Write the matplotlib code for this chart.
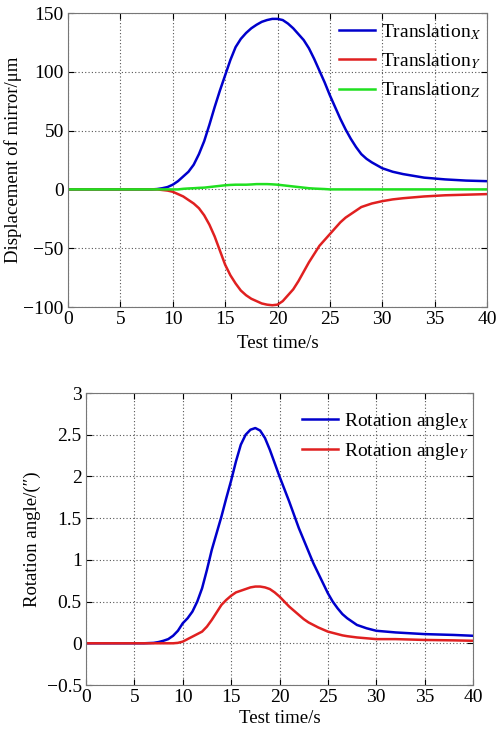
# Mirror displacement and rotation vs test time

import matplotlib
matplotlib.use("Agg")
import matplotlib.pyplot as plt

plt.rcParams["font.family"] = ["Liberation Serif", "DejaVu Serif"]
plt.rcParams["mathtext.fontset"] = "stix"
plt.rcParams["font.size"] = 13.5

# translation data (um)
t_trans = [0, 2, 4, 6, 8, 8.5, 9, 9.5, 10, 10.5, 11, 11.5, 12, 12.5, 13, 13.5, 14, 14.5,
           15, 15.5, 16, 16.5, 17, 17.5, 18, 18.5, 19, 19.5, 20, 20.5, 21, 21.5, 22, 22.5,
           23, 23.5, 24, 24.5, 25, 25.5, 26, 26.5, 27, 27.5, 28, 28.5, 29, 30, 31, 32,
           34, 36, 38, 40]
trans_x = [0, 0, 0, 0, 0, 0.3, 1, 2, 4, 7, 11, 15, 21, 30, 41, 55, 70, 84,
           97, 110, 121, 128, 133, 137, 140, 142.5, 144, 145, 145, 144, 141, 137, 132, 127,
           120, 111, 101, 91, 80, 70, 60, 51, 43, 36, 30, 26, 23, 18, 15, 13,
           10, 8.5, 7.5, 7]
trans_y = [0, 0, 0, 0, 0, 0, -0.5, -1, -2, -4, -6, -9, -12, -16, -22, -30, -40, -52,
           -64, -73, -80, -86, -90, -93, -95, -97, -98, -98.5, -98, -95, -90, -85, -78, -70,
           -62, -55, -48, -43, -38, -33, -28, -24, -21, -18, -15, -13.5, -12, -10, -8.5, -7.5,
           -6, -5, -4.5, -4]
trans_z = [0, 0, 0, 0, 0, 0, 0, 0, 0, 0, 0.5, 0.8, 1, 1.3, 1.5, 2, 2.5, 3,
           3.5, 3.8, 4, 4, 4, 4.2, 4.5, 4.5, 4.5, 4.3, 4, 3.5, 3, 2.5, 2, 1.5,
           1, 0.7, 0.5, 0.3, 0, 0, 0, 0, 0, 0, 0, 0, 0, 0, 0, 0,
           0, 0, 0, 0]

# rotation data
t_rot = [0, 2, 4, 6, 7, 7.5, 8, 8.5, 9, 9.5, 10, 10.5, 11, 11.5, 12, 12.5, 13, 13.5, 14, 14.5,
         15, 15.5, 16, 16.5, 17, 17.5, 18, 18.5, 19, 19.5, 20, 20.5, 21, 21.5, 22, 22.5,
         23, 23.5, 24, 24.5, 25, 25.5, 26, 26.5, 27, 28, 29, 30, 32, 35, 38, 40]
rot_x = [0, 0, 0, 0, 0.005, 0.015, 0.03, 0.05, 0.09, 0.15, 0.24, 0.3, 0.38, 0.5, 0.66, 0.88, 1.12, 1.32, 1.52, 1.74,
         1.95, 2.18, 2.38, 2.5, 2.56, 2.58, 2.55, 2.46, 2.32, 2.16, 2.0, 1.85, 1.7, 1.54, 1.38, 1.24,
         1.1, 0.96, 0.84, 0.72, 0.6, 0.5, 0.42, 0.35, 0.3, 0.22, 0.18, 0.15, 0.13, 0.11, 0.1, 0.09]
rot_y = [0, 0, 0, 0, 0, 0, 0, 0, 0, 0.005, 0.02, 0.05, 0.08, 0.11, 0.14, 0.2, 0.28, 0.37, 0.46, 0.52,
         0.57, 0.61, 0.63, 0.65, 0.67, 0.68, 0.68, 0.67, 0.65, 0.61, 0.56, 0.5, 0.44, 0.39, 0.34, 0.29,
         0.25, 0.22, 0.19, 0.165, 0.14, 0.125, 0.11, 0.095, 0.085, 0.07, 0.06, 0.05, 0.05, 0.04, 0.035, 0.03]

fig = plt.figure(figsize=(4.98, 7.31), dpi=100)

ax1 = fig.add_axes([68/498, 1-307/731, (487-68)/498, (307-13)/731])
ax1.plot(t_trans, trans_x, color="#0000cc", lw=1.8, label="Translation$_{X}$")
ax1.plot(t_trans, trans_y, color="#e02020", lw=1.8, label="Translation$_{Y}$")
ax1.plot(t_trans, trans_z, color="#20e020", lw=1.8, label="Translation$_{Z}$")
ax1.set_xlim(0, 40)
ax1.set_ylim(-100, 150)
ax1.set_xticks(range(0, 41, 5))
ax1.set_yticks([-100, -50, 0, 50, 100, 150])
ax1.set_yticklabels(["\u2212100", "\u221250", "0", "50", "100", "150"])
ax1.set_xlabel("Test time/s", labelpad=5)
ax1.set_ylabel("Displacement of mirror/\u03bcm", labelpad=1)
ax1.legend(loc="upper right", bbox_to_anchor=(0.985, 0.97), frameon=False,
           handlelength=1.85, handletextpad=0.3, borderaxespad=0, borderpad=0,
           labelspacing=0.5, fontsize=14)

ax2 = fig.add_axes([86/498, 1-685/731, (473-86)/498, (685-393)/731])
ax2.plot(t_rot, rot_x, color="#0000cc", lw=1.8, label="Rotation angle$_{X}$")
ax2.plot(t_rot, rot_y, color="#e02020", lw=1.8, label="Rotation angle$_{Y}$")
ax2.set_xlim(0, 40)
ax2.set_ylim(-0.5, 3)
ax2.set_xticks(range(0, 41, 5))
ax2.set_yticks([-0.5, 0, 0.5, 1, 1.5, 2, 2.5, 3])
ax2.set_yticklabels(["\u22120.5", "0", "0.5", "1", "1.5", "2", "2.5", "3"])
ax2.set_xlabel("Test time/s", labelpad=3)
ax2.set_ylabel("Rotation angle/(\u2033)", labelpad=4)
ax2.legend(loc="upper right", bbox_to_anchor=(0.99, 0.94), frameon=False,
           handlelength=1.85, handletextpad=0.3, borderaxespad=0, borderpad=0,
           labelspacing=0.5, fontsize=14)

for ax in [ax1, ax2]:
    ax.grid(True, color="#555555", linestyle=(0, (1, 2)), lw=0.8)
    ax.tick_params(direction="in", length=4, top=True, right=True, labelsize=14, pad=3)
    for s in ax.spines.values():
        s.set_color("#777777")

plt.savefig("out.png", dpi=100)
plt.close()
